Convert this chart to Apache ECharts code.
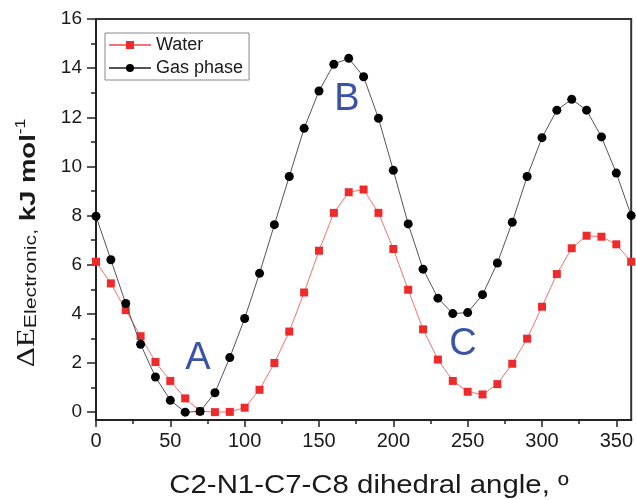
<!DOCTYPE html>
<html>
<head>
<meta charset="utf-8">
<script src="https://cdn.jsdelivr.net/npm/echarts@6/dist/echarts.min.js"></script>
<style>
html,body{margin:0;padding:0;background:#fff;}
#main{width:636px;height:500px;}
</style>
</head>
<body>
<div id="main"></div>
<script>
// dihedral angle, degrees
var angles = [0,10,20,30,40,50,60,70,80,90,100,110,120,130,140,150,160,170,180,
	190,200,210,220,230,240,250,260,270,280,290,300,310,320,330,340,350,360];
// relative energy, kJ/mol
var water = [6.12,5.24,4.15,3.09,2.04,1.27,0.56,0.04,0.0,0.01,0.18,0.91,2.0,3.28,4.87,6.57,8.11,8.95,9.06,
	8.11,6.64,4.98,3.37,2.14,1.27,0.83,0.72,1.14,1.97,2.99,4.29,5.62,6.67,7.18,7.14,6.83,6.12];
var gas = [7.97,6.2,4.42,2.76,1.43,0.48,0.0,0.03,0.79,2.22,3.81,5.65,7.63,9.59,11.55,13.07,14.16,14.4,13.65,
	11.96,9.84,7.66,5.82,4.64,4.01,4.05,4.78,6.07,7.73,9.59,11.17,12.29,12.73,12.29,11.2,9.73,8.0];
var xMajor = [0,50,100,150,200,250,300,350];
var xMinor = [25,75,125,175,225,275,325];
var yMajor = [0,2,4,6,8,10,12,14,16];
var yMinor = [1,3,5,7,9,11,13,15];

function pairs(xs, ys){
	var out = [];
	for(var i=0;i<xs.length;i++){
		out.push([xs[i], ys[i]]);
	}
	return out;
}

var font = 'Liberation Sans';
var ink = '#1a1a1a';
var blue = '#3a53a6';
var myChart = echarts.init(document.getElementById('main'), null, {renderer:'canvas'});
var option = {
	animation: false,
	backgroundColor: '#fff',
	grid: {
		left: 96, right: 3, top: 19, bottom: 80,
		show: true, borderColor: '#333', borderWidth: 2
	},
	legend: {
		orient: 'vertical',
		left: 105, top: 33,
		data: ['Water', 'Gas phase'],
		itemWidth: 42, itemHeight: 10, itemGap: 5,
		padding: [3, 6, 3, 3],
		borderColor: '#888', borderWidth: 1,
		backgroundColor: '#fff',
		textStyle: {fontFamily: font, fontSize: 18, color: ink, lineHeight: 18}
	},
	xAxis: [
		{
			type: 'value', min: 0, max: 360, position: 'bottom',
			axisLine: {onZero: false, lineStyle: {color: '#222', width: 2}},
			axisTick: {show: true, length: 7, customValues: xMajor, lineStyle: {color: '#222', width: 1.5}},
			axisLabel: {customValues: xMajor, fontFamily: font, fontSize: 20, color: ink, margin: 11},
			splitLine: {show: false}
		},
		{
			type: 'value', min: 0, max: 360, position: 'bottom',
			axisLine: {show: false, onZero: false},
			axisTick: {show: true, length: 4, customValues: xMinor, lineStyle: {color: '#222', width: 1.5}},
			axisLabel: {show: false},
			splitLine: {show: false}
		}
	],
	yAxis: [
		{
			type: 'value', min: -0.32, max: 16, position: 'left',
			axisLine: {show: true, onZero: false, lineStyle: {color: '#222', width: 2}},
			axisTick: {show: true, length: 9, customValues: yMajor, lineStyle: {color: '#222', width: 1.5}},
			axisLabel: {customValues: yMajor, fontFamily: font, fontSize: 19, color: ink, margin: 14},
			splitLine: {show: false}
		},
		{
			type: 'value', min: -0.32, max: 16, position: 'left',
			axisLine: {show: false, onZero: false},
			axisTick: {show: true, length: 5, customValues: yMinor, lineStyle: {color: '#222', width: 1.5}},
			axisLabel: {show: false},
			splitLine: {show: false}
		}
	],
	series: [
		{
			name: 'Water',
			type: 'line',
			data: pairs(angles, water),
			symbol: 'rect', symbolSize: 8,
			itemStyle: {color: '#ee2b2b'},
			lineStyle: {color: '#f27373', width: 1},
			z: 2
		},
		{
			name: 'Gas phase',
			type: 'line',
			data: pairs(angles, gas),
			symbol: 'circle', symbolSize: 9,
			itemStyle: {color: '#000'},
			lineStyle: {color: '#555', width: 1},
			z: 3
		}
	],
	graphic: [
		{type: 'text', x: 198, y: 359, z: 10,
			style: {text: 'A', fill: blue, fontFamily: font, fontSize: 38, align: 'center', verticalAlign: 'middle'}},
		{type: 'text', x: 347, y: 100, z: 10,
			style: {text: 'B', fill: blue, fontFamily: font, fontSize: 38, align: 'center', verticalAlign: 'middle'}},
		{type: 'text', x: 463, y: 345, z: 10,
			style: {text: 'C', fill: blue, fontFamily: font, fontSize: 38, align: 'center', verticalAlign: 'middle'}},
		// x axis title
		{type: 'text', x: 369, y: 486, scaleX: 1.13, z: 10,
			style: {text: 'C2-N1-C7-C8 dihedral angle, º', fill: ink, fontFamily: font, fontSize: 26,
				align: 'center', verticalAlign: 'middle'}},
		// y axis title
		{type: 'text', x: 27, y: 243, rotation: Math.PI / 2, scaleX: 1.25, z: 10,
			style: {
				text: '{d|ΔE}{s|Electronic,}{u| kJ mol}{p|-1}',
				align: 'center', verticalAlign: 'middle', fill: ink,
				rich: {
					d: {fontFamily: 'Liberation Serif', fontSize: 25, lineHeight: 25, verticalAlign: 'bottom', fill: ink},
					s: {fontFamily: font, fontSize: 17, lineHeight: 17, verticalAlign: 'bottom', fill: ink},
					u: {fontFamily: font, fontSize: 22, lineHeight: 22, verticalAlign: 'bottom', fontWeight: 'bold', fill: ink},
					p: {fontFamily: font, fontSize: 14, lineHeight: 14, verticalAlign: 'top', padding: [0, 0, 18, 0], fill: ink}
				}
			}
		}
	]
};
myChart.setOption(option);
</script>
</body>
</html>
